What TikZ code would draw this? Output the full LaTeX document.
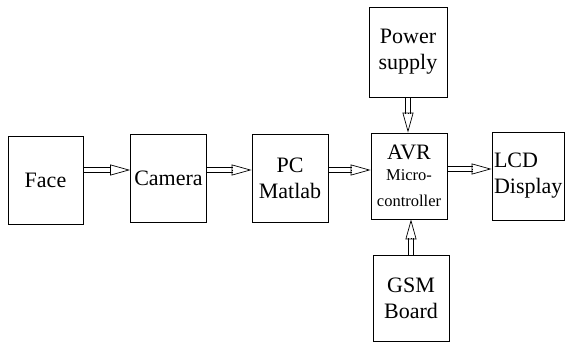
\documentclass[tikz,border=0pt]{standalone}
\usepackage{fontspec}
\setmainfont{Liberation Serif}
\usepackage{tikz}
\usetikzlibrary{positioning,arrows.meta,calc}

% hollow block arrow: two-line shaft, open head
\newcommand{\link}[2]{%
  \coordinate (m) at ($(#2)!19pt!(#1)$);
  \draw[edge] ($(#1)!2.2pt!90:(#2)$) -- ($(m)!2.2pt!90:(#2)$);
  \draw[edge] ($(#1)!2.2pt!-90:(#2)$) -- ($(m)!2.2pt!-90:(#2)$);
  \draw[head] (m) -- (#2);}

\begin{document}
\begin{tikzpicture}[
    x=1pt, y=1pt,
    blk/.style={draw, line width=0.8pt, minimum width=76pt, minimum height=88pt,
                inner sep=1pt, align=center, font=\fontsize{22}{26}\selectfont},
    edge/.style={line width=0.7pt},
    head/.style={line width=0.7pt, -{Triangle[open, length=20pt, width=11pt]}},
]
\useasboundingbox (0,0) rectangle (566,343);

\node[blk, minimum width=75pt] (face) at (45.5,163) {Face};
\node[blk] (camera) at (168.5,165) {Camera};
\node[blk] (pc) at (290,165) {PC\\Matlab};
\node[blk, minimum height=86pt] (avr) at (409,167)
    {AVR\\[-5pt]\fontsize{16.5}{18}\selectfont Micro-\\\fontsize{16.5}{18}\selectfont controller};
\node[blk, minimum width=72pt, align=left, text width=68pt] (lcd) at (528,167) {LCD\\Display};
\node[blk, minimum width=78pt, minimum height=90pt] (power) at (408,291) {Power\\supply};
\node[blk, minimum height=86pt] (gsm) at (411,45) {GSM\\Board};

\coordinate (fc) at ([yshift=10pt]face.east);
\coordinate (cf) at (fc -| camera.west);
\coordinate (cp) at ([yshift=8pt]camera.east);
\coordinate (pc1) at (cp -| pc.west);
\coordinate (pa) at ([yshift=8pt]pc.east);
\coordinate (ap) at (pa -| avr.west);
\coordinate (al) at ([yshift=7pt]avr.east);
\coordinate (la) at (al -| lcd.west);
\coordinate (pw) at (power.south);
\coordinate (ab) at (pw |- avr.north);
\coordinate (gs) at (gsm.north);
\coordinate (ag) at (gs |- avr.south);

\link{fc}{cf}
\link{cp}{pc1}
\link{pa}{ap}
\link{al}{la}
\link{pw}{ab}
\link{gs}{ag}
\end{tikzpicture}
\end{document}
